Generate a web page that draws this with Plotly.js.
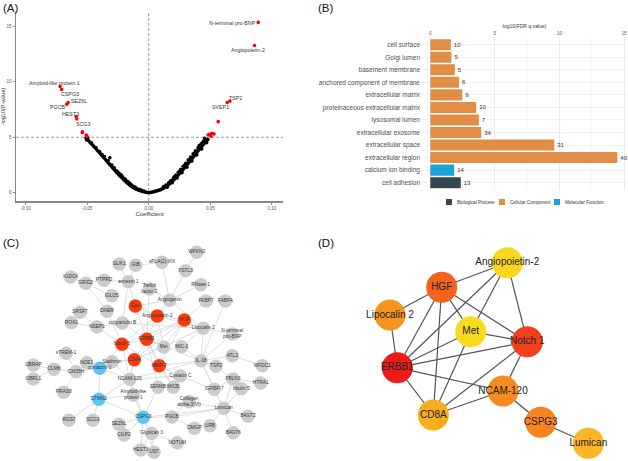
<!DOCTYPE html>
<html><head><meta charset="utf-8">
<script src="https://cdn.plot.ly/plotly-3.0.1.min.js"></script>
<style>html,body{margin:0;padding:0;background:#fff;}#chart{width:628px;height:461px;}</style>
</head><body><div id="chart"></div>
<script>
// ---------- Panel A: volcano data ----------
const leftCoef = [-0.001,-0.002,-0.003,-0.004,-0.005,-0.006,-0.007,-0.008,-0.009,-0.010,-0.011,-0.012,-0.013,-0.014,-0.015,-0.016,-0.017,-0.018,-0.019,-0.020,-0.021,-0.022,-0.023,-0.024,-0.025,-0.026,-0.027,-0.028,-0.029,-0.030,-0.031,-0.032,-0.033,-0.034,-0.035,-0.036,-0.037,-0.038,-0.039,-0.040,-0.041,-0.042,-0.043,-0.044,-0.045,-0.046,-0.047,-0.048,-0.049,-0.050,-0.051,
  -0.004,-0.007,-0.010,-0.012,-0.014,-0.016,-0.018,-0.020,-0.022,-0.024,-0.026,-0.028,-0.030,-0.0316,-0.033,-0.036,-0.040,-0.043,-0.0465,-0.0495,-0.0505,-0.038,-0.025,-0.019,-0.015,-0.011,-0.008,-0.006,-0.0165,-0.0225,-0.0135,-0.0175,-0.0215];
const leftLogP = [0.01,0.04,0.06,0.09,0.12,0.15,0.18,0.22,0.26,0.31,0.36,0.42,0.49,0.56,0.64,0.73,0.83,0.93,1.04,1.14,1.25,1.36,1.47,1.58,1.70,1.82,1.95,2.08,2.21,2.34,2.46,2.58,2.71,2.84,2.97,3.10,3.22,3.35,3.48,3.60,3.73,3.85,3.98,4.10,4.22,4.35,4.47,4.58,4.70,4.82,4.93,
  0.14,0.25,0.40,0.55,0.70,0.88,1.05,1.28,1.50,1.72,1.98,2.25,2.50,3.15,2.90,3.25,3.72,4.08,4.50,4.95,4.75,3.45,1.85,1.20,0.80,0.48,0.30,0.22,0.95,1.62,0.62,1.00,1.45];
const rightCoef = [0.001,0.002,0.003,0.004,0.005,0.006,0.007,0.008,0.009,0.010,0.011,0.012,0.013,0.014,0.015,0.016,0.017,0.018,0.019,0.020,0.021,0.022,0.023,0.024,0.025,0.026,0.027,0.028,0.029,0.030,0.031,0.032,0.033,0.034,0.035,0.036,0.037,0.038,0.039,0.040,0.041,0.042,0.043,0.044,0.045,0.046,0.047,0.048,
  0.012,0.014,0.016,0.018,0.020,0.022,0.024,0.026,0.028,0.030,0.032,0.034,0.036,0.038,0.040,0.042,0.044,0.046,
  0.015,0.019,0.023,0.027,0.031,0.035,0.039,0.043,0.047,0.041,0.043,0.0455,0.0445,0.025,0.029,0.033,0.037,0.021,0.017];
const rightLogP = [0.01,0.03,0.06,0.09,0.12,0.15,0.18,0.21,0.25,0.30,0.35,0.41,0.47,0.54,0.62,0.71,0.81,0.91,1.02,1.13,1.24,1.36,1.48,1.60,1.73,1.86,1.99,2.12,2.25,2.38,2.51,2.64,2.78,2.92,3.06,3.20,3.34,3.48,3.62,3.76,3.90,4.04,4.18,4.31,4.44,4.56,4.68,4.80,
  0.55,0.70,0.88,1.10,1.32,1.58,1.84,2.10,2.38,2.66,2.94,3.22,3.50,3.78,4.06,4.32,4.55,4.75,
  0.50,0.90,1.32,1.80,2.30,2.85,3.40,3.95,4.50,4.25,4.45,4.90,4.65,1.92,2.45,3.00,3.58,1.45,0.95];
const sigCoef = [0.0889,0.0859,-0.0720,-0.0707,-0.0655,-0.0666,-0.0590,-0.0584,-0.0538,-0.0540,-0.0508,-0.0500,0.0659,0.0637,0.0564,0.0530,0.0513,0.0505,0.0491,0.0483];
const sigLogP = [15.36,13.28,9.58,9.31,8.13,7.98,6.87,6.66,5.50,5.42,5.20,5.06,8.26,8.13,6.41,5.30,5.36,5.10,5.27,5.21];
const volcanoLabels = ['N-terminal pro-BNP','Angiopoietin-2','Amyloid-like protein 1','CSPG3','SEZ6L','PGCB','HEST3','SCG3','TSP2','SVEP1'];
const volcanoLabelX = [0.0676,0.0805,-0.0762,-0.0640,-0.0567,-0.0745,-0.0632,-0.0534,0.0708,0.0586];
const volcanoLabelY = [15.33,12.89,9.91,8.92,8.28,7.74,7.11,6.21,8.55,7.74];

// ---------- Panel B: GO enrichment ----------
const goTerms = ['cell surface','Golgi lumen','basement membrane','anchored component of membrane','extracellular matrix','proteinaceous extracellular matrix','lysosomal lumen','extracellular exosome','extracellular space','extracellular region','calcium ion binding','cell adhesion'];
const goValue = [1.59,1.64,1.90,2.23,2.47,3.55,3.76,3.94,9.60,14.48,1.85,2.36];
const goCount = [10,5,5,6,9,10,7,34,31,40,14,13];
const goClass = ['Cellular Component','Cellular Component','Cellular Component','Cellular Component','Cellular Component','Cellular Component','Cellular Component','Cellular Component','Cellular Component','Cellular Component','Molecular Function','Biological Process'];
const goClasses = ['Biological Process','Cellular Component','Molecular Function'];
const goColors = ['#34474F','#E08D45','#1BA3D8'];

// ---------- Panel C: PPI network ----------
const cLabels = ['WFKN2','SLIK1','GIB','sPLA(2)-XIII','FSTL3','IGDC4','GRID2','PTPRD','annexin 1','RNase 1','Trefoil<br>factor 2','IGLO5','Angiogenin','FKBP7','FABPA','SRSF7','DNER','Epo','Angiopoietin-2','HGF','ROA1','NSEP1','colgranulin B','Lipocalin 2','N-terminal<br>pro-BNP','ERBB1','Notch 1','Met','MIC-1','sTREM-1','NOE1','Stathmin','CD8A','MMP-7','IL-18','ATL2','WFDC1','GBRAP','CLM8','CM35H','contactin-1','TSP2','Cystatin C','GBRL1','NCAM-120','FBLN3','HTRA1','MICB','IGFBP-7','PRAS8','Amyloid-like<br>protein 1','SEM6B','fibulin 5','STMN2','Collagen<br>alpha-3(VI)','Lumican','B4GT2','RGS7','SCG3','SEZ6L','CSPG3','PGCB','URB','B4GT6','OMGP','CILP2','Glypican 3','NOTUM','HEST3','UST'];
const cX = [196.7,119.3,135.7,162,185.7,70.7,85.7,104,128.3,200.7,149.3,111.7,169.7,206,225.3,80,107,135.3,157.3,184.3,71.3,97,122.3,203.3,232.3,146.7,122,163.7,181.7,66,86.7,112,134.3,159.3,201,232.3,262.3,33.3,54,76,99.7,216,180.3,33.3,129.7,233,260.7,173.3,214.3,63.7,133.3,158,241.3,98.7,189,223.7,248,69,93,119,143.3,172,210,233.3,194.3,124,151.7,177.3,140.7,154];
const cY = [252.3,264,265.3,262.3,270.7,277,283.3,280.3,281.7,284.7,289,295.7,300.3,301,301,312.3,311.3,306,316,320,322.7,327,323,328.3,334,339.3,344.3,347,346.7,353.3,362.7,361.7,359.7,365.7,360.7,355.7,365.7,365,369.3,371.7,368.3,366.3,376,379,379.3,379,383,387.3,389.3,392.3,395,387.3,388.7,399.3,401.7,408.3,416.3,420.3,420.3,424.3,417.3,417,425.7,432.7,428.3,435,433.3,442.7,450,452.3];
const cHub = ['Epo','Angiopoietin-2','HGF','ERBB1','Notch 1','CD8A','MMP-7'];
const cSeed = ['contactin-1','STMN2','CSPG3'];
const cEdges = [['WFKN2','FSTL3'],['FSTL3','Angiogenin'],['GIB','sPLA(2)-XIII'],['SLIK1','annexin 1'],['IGDC4','GRID2'],['GRID2','PTPRD'],['GRID2','IGLO5'],['PTPRD','annexin 1'],['GRID2','DNER'],['annexin 1','Epo'],['annexin 1','colgranulin B'],['RNase 1','Angiogenin'],['Angiogenin','Angiopoietin-2'],['Angiogenin','Lipocalin 2'],['Angiogenin','Epo'],['Trefoil factor 2','ERBB1'],['FKBP7','HGF'],['FABPA','IL-18'],['SRSF7','NSEP1'],['ROA1','NSEP1'],['NSEP1','colgranulin B'],['NSEP1','Notch 1'],['DNER','Notch 1'],['N-terminal pro-BNP','Lipocalin 2'],['N-terminal pro-BNP','IL-18'],['sTREM-1','CM35H'],['GBRAP','CLM8'],['GBRL1','CLM8'],['CLM8','CM35H'],['CM35H','contactin-1'],['PRAS8','CM35H'],['NOE1','contactin-1'],['contactin-1','Stathmin'],['contactin-1','NCAM-120'],['contactin-1','STMN2'],['contactin-1','Notch 1'],['STMN2','RGS7'],['STMN2','CSPG3'],['STMN2','NCAM-120'],['STMN2','Amyloid-like protein 1'],['STMN2','SCG3'],['CSPG3','SEZ6L'],['CSPG3','CILP2'],['CSPG3','Glypican 3'],['CSPG3','PGCB'],['CSPG3','Lumican'],['CSPG3','NCAM-120'],['CSPG3','HEST3'],['CSPG3','UST'],['CSPG3','Amyloid-like protein 1'],['PGCB','OMGP'],['Glypican 3','NOTUM'],['Glypican 3','HEST3'],['Glypican 3','UST'],['Lumican','B4GT2'],['Lumican','B4GT6'],['Lumican','IGFBP-7'],['Lumican','fibulin 5'],['Lumican','FBLN3'],['Lumican','URB'],['Lumican','Collagen alpha-3(VI)'],['Lumican','PGCB'],['Lumican','IL-18'],['ATL2','WFDC1'],['FBLN3','HTRA1'],['TSP2','IL-18'],['TSP2','FBLN3'],['Epo','ERBB1'],['Epo','Angiopoietin-2'],['Angiopoietin-2','HGF'],['Angiopoietin-2','ERBB1'],['Angiopoietin-2','Met'],['Angiopoietin-2','Notch 1'],['HGF','Met'],['HGF','ERBB1'],['HGF','Lipocalin 2'],['HGF','Notch 1'],['HGF','CD8A'],['ERBB1','Notch 1'],['ERBB1','Met'],['ERBB1','CD8A'],['ERBB1','MMP-7'],['Notch 1','CD8A'],['Notch 1','NCAM-120'],['CD8A','NCAM-120'],['CD8A','Stathmin'],['MMP-7','Cystatin C'],['MMP-7','IL-18'],['MMP-7','MICB'],['ERBB1','IL-18'],['Lipocalin 2','IL-18'],['Lipocalin 2','MIC-1'],['MIC-1','IL-18'],['Met','CD8A'],['colgranulin B','ERBB1'],['colgranulin B','Lipocalin 2'],['NCAM-120','Cystatin C'],['NCAM-120','IL-18'],['Cystatin C','IGFBP-7'],['SEM6B','CSPG3'],['SEM6B','ERBB1'],['Collagen alpha-3(VI)','PGCB'],['MICB','ERBB1'],['IL-18','IGFBP-7'],['Angiopoietin-2','Lipocalin 2'],['HGF','MMP-7'],['Notch 1','MMP-7'],['CD8A','Lipocalin 2'],['Amyloid-like protein 1','NCAM-120'],['IGFBP-7','FBLN3'],['ATL2','IL-18'],['Stathmin','NCAM-120'],['Trefoil factor 2','Angiogenin'],['sPLA(2)-XIII','Angiogenin'],['GIB','annexin 1']];

// ---------- Panel D: hub network ----------
const dNames = ['Angiopoietin-2','HGF','Lipocalin 2','Met','Notch 1','ERBB1','NCAM-120','CD8A','CSPG3','Lumican'];
const dX = [507.3,441.7,390,470.7,527.3,397.3,503,433.3,540.7,588.3];
const dY = [262.7,287.3,315,331.7,341.7,367.7,391,415,422.3,443.3];
const dColors = ['#F9D71C','#F4631C','#F7941D','#F9DB1E','#F0401C','#EE1B1B','#F68A1E','#F9AE1E','#F4851F','#FBB526'];
const dEdges = [['HGF','Angiopoietin-2'],['HGF','Lipocalin 2'],['HGF','Met'],['HGF','Notch 1'],['HGF','ERBB1'],['HGF','CD8A'],['Angiopoietin-2','ERBB1'],['Angiopoietin-2','Met'],['Angiopoietin-2','Notch 1'],['Lipocalin 2','ERBB1'],['Met','ERBB1'],['Met','Notch 1'],['Met','CD8A'],['Notch 1','ERBB1'],['Notch 1','CD8A'],['Notch 1','NCAM-120'],['ERBB1','NCAM-120'],['ERBB1','CD8A'],['CD8A','NCAM-120'],['NCAM-120','CSPG3'],['CSPG3','Lumican']];

// ---------- build ----------
const W = 628, H = 461;
const px = v => v / W, py = v => 1 - v / H;
const FONT = 'Liberation Sans, Arial, Helvetica, sans-serif';
const traces = [];

// A
traces.push({type:'scatter', mode:'markers', x: leftCoef.concat(rightCoef), y: leftLogP.concat(rightLogP),
  marker:{color:'#000', size:3.6}, xaxis:'x', yaxis:'y', hoverinfo:'skip'});
traces.push({type:'scatter', mode:'markers', x: sigCoef, y: sigLogP,
  marker:{color:'#FF0000', size:3.6}, xaxis:'x', yaxis:'y'});

// B
goClasses.forEach((cls, k) => {
  const idx = goTerms.map((t,i)=>i).filter(i => goClass[i] === cls);
  traces.push({type:'bar', orientation:'h', name: cls,
    y: idx.map(i=>goTerms[i]), x: idx.map(i=>goValue[i]), text: idx.map(i=>String(goCount[i])),
    textposition:'outside', constraintext:'none', cliponaxis:false,
    textfont:{size:6, color:'#333', family:FONT},
    marker:{color: goColors[k], line:{width:0}}, width:0.88, xaxis:'x2', yaxis:'y2'});
});

// C
const cIds = cLabels.map(s => s.replace('<br>', ' '));
const cex = [], cey = [];
cEdges.forEach(([a,b]) => { const i = cIds.indexOf(a), j = cIds.indexOf(b);
  cex.push(cX[i], cX[j], null); cey.push(cY[i], cY[j], null); });
traces.push({type:'scatter', mode:'lines', x:cex, y:cey, line:{color:'#D6D6D6', width:0.8}, xaxis:'x3', yaxis:'y3', hoverinfo:'skip'});
traces.push({type:'scatter', mode:'markers+text', x:cX, y:cY, text:cLabels, textposition:'middle center',
  textfont:{size:4.8, color:'#333', family:FONT},
  marker:{size:13.5, color: cIds.map(n => cHub.includes(n) ? '#FA3C0C' : (cSeed.includes(n) ? '#5BC6F4' : '#CBCBCB')), line:{width:0}},
  xaxis:'x3', yaxis:'y3', cliponaxis:false});

// D
const dex = [], dey = [];
dEdges.forEach(([a,b]) => { const i = dNames.indexOf(a), j = dNames.indexOf(b);
  dex.push(dX[i], dX[j], null); dey.push(dY[i], dY[j], null); });
traces.push({type:'scatter', mode:'lines', x:dex, y:dey, line:{color:'#555', width:1.2}, xaxis:'x4', yaxis:'y4', hoverinfo:'skip'});
traces.push({type:'scatter', mode:'markers+text', x:dX, y:dY, text:dNames, textposition:'middle center',
  textfont:{size:10, color:'#222', family:FONT},
  marker:{size:31, color:dColors, line:{width:0}}, xaxis:'x4', yaxis:'y4', cliponaxis:false});

// annotations
const ann = [];
volcanoLabels.forEach((t,i) => ann.push({xref:'x', yref:'y', x:volcanoLabelX[i], y:volcanoLabelY[i], text:t, showarrow:false,
  font:{size:5.3, color:'#333', family:FONT}}));
[['(A)',1,8],['(B)',316,8],['(C)',1,243],['(D)',316,243]].forEach(([t,x,y]) => ann.push({xref:'paper', yref:'paper',
  x:px(x), y:py(y), xanchor:'left', yanchor:'middle', text:t, showarrow:false, font:{size:11.5, color:'#111', family:FONT}}));

// B legend (drawn)
const legItems = [[446,455,'Biological Process'],[499,508,'Cellular Component'],[554,563,'Molecular Function']];
const shapes = [];
legItems.forEach(([sx,tx,label],k) => {
  shapes.push({type:'rect', xref:'paper', yref:'paper', x0:px(sx), x1:px(sx+6), y0:py(205), y1:py(199), fillcolor:goColors[k], line:{width:0}});
  ann.push({xref:'paper', yref:'paper', x:px(tx), y:py(202), xanchor:'left', yanchor:'middle', text:label, showarrow:false, font:{size:4.6, color:'#333', family:FONT}});
});
// A reference lines
shapes.push({type:'line', xref:'x', yref:'y', x0:0, x1:0, y0:-0.75, y1:16.3, line:{color:'#999', width:1, dash:'3px,2px'}, layer:'below'});
shapes.push({type:'line', xref:'x', yref:'y', x0:-0.1078, x1:0.109, y0:5, y1:5, line:{color:'#999', width:1, dash:'3px,2px'}, layer:'below'});

const hidden = {visible:false, showgrid:false, zeroline:false};
const layout = {
  width:W, height:H, margin:{l:0,r:0,t:0,b:0}, paper_bgcolor:'#fff', plot_bgcolor:'rgba(0,0,0,0)',
  showlegend:false, font:{family:FONT, color:'#333'},
  xaxis:{domain:[px(16), px(283)], range:[-0.1078,0.109], anchor:'y',
    tickvals:[-0.10,-0.05,0,0.05,0.10], ticktext:['-0.10','-0.05','0.00','0.05','0.10'],
    showline:true, linecolor:'#888', linewidth:1.5, ticks:'outside', ticklen:2, tickcolor:'#888',
    tickfont:{size:4.5, color:'#555'}, showgrid:false, zeroline:false,
    title:{text:'Coefficient', font:{size:6, color:'#333'}, standoff:1}},
  yaxis:{domain:[py(201), py(12)], range:[-0.75,16.3], anchor:'x',
    tickvals:[0,5,10,15], showline:true, linecolor:'#888', linewidth:1.5, ticks:'outside', ticklen:2, tickcolor:'#888',
    tickfont:{size:4.5, color:'#555'}, showgrid:false, zeroline:false,
    title:{text:'-log10(P-value)', font:{size:5.5, color:'#333'}, standoff:1}},
  xaxis2:{domain:[px(421), px(626.6)], range:[-0.72,15.2], anchor:'y2', side:'top',
    tickvals:[0,5,10,15], tickfont:{size:4.5, color:'#555'}, ticks:'', showline:false, zeroline:false,
    showgrid:true, gridcolor:'#E6E6E6', gridwidth:0.8,
    minor:{tickvals:[2.5,7.5,12.5], showgrid:true, gridcolor:'#F3F3F3', gridwidth:0.6},
    title:{text:'-log10(FDR q-value)', font:{size:5, color:'#333'}, standoff:2}},
  yaxis2:{domain:[py(190.2), py(37.2)], anchor:'x2', type:'category', categoryorder:'array', categoryarray:goTerms,
    range:[11.6,-0.6], tickfont:{size:6.5, color:'#4D4D4D'}, ticks:'', showline:false, zeroline:false,
    showgrid:true, gridcolor:'#EDEDED', gridwidth:0.8},
  xaxis3:Object.assign({domain:[0,0.5], range:[0,314], anchor:'y3'}, hidden),
  yaxis3:Object.assign({domain:[0,py(215)], range:[461,215], anchor:'x3'}, hidden),
  xaxis4:Object.assign({domain:[0.5,1], range:[314,628], anchor:'y4'}, hidden),
  yaxis4:Object.assign({domain:[0,py(215)], range:[461,215], anchor:'x4'}, hidden),
  annotations:ann, shapes:shapes, bargap:0.1
};
Plotly.newPlot('chart', traces, layout, {displayModeBar:false, staticPlot:true});
</script></body></html>
